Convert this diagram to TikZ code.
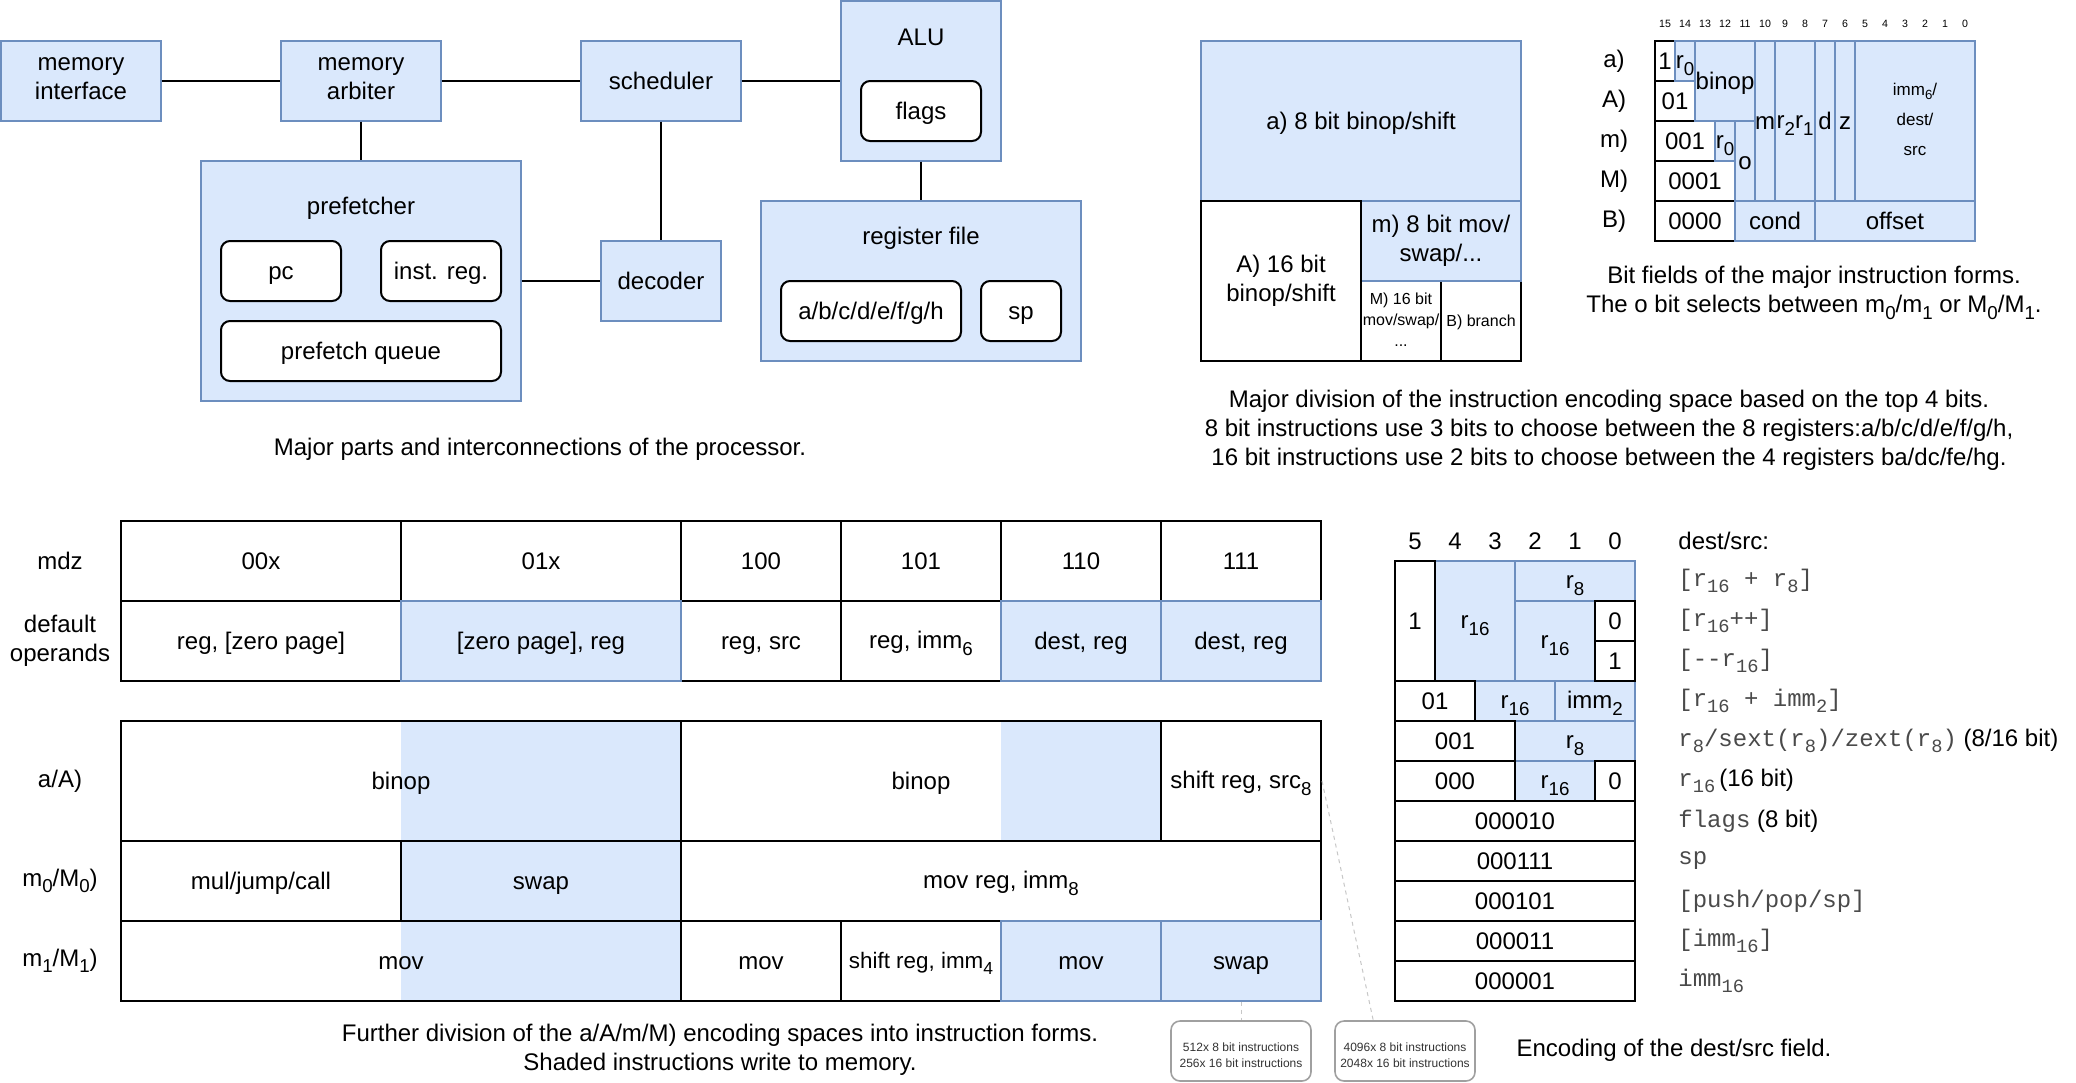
\documentclass[tikz,border=0pt]{standalone}
\usepackage{fontspec}
\usepackage{graphicx}
\setmainfont{Liberation Sans}
\setmonofont{Liberation Mono}
\usetikzlibrary{calc}
\definecolor{bfill}{HTML}{DAE8FC}
\definecolor{bdraw}{HTML}{6C8EBF}
\definecolor{monoc}{HTML}{4A4A4A}
\definecolor{callc}{HTML}{A0A0A0}
\definecolor{calltext}{HTML}{333333}
\newcommand\fstrut{\rule[-0.212em]{0pt}{1.117em}}
\newcommand\sub[1]{\raisebox{-0.27em}{\scalebox{0.78}{#1}}}
\tikzset{
  ft/.style={font=\fontsize{12}{14.4}\selectfont},
  struts/.style={execute at begin node=\fstrut, execute at end node=\fstrut},
  bcell/.style={fill=bfill, draw=bdraw, line width=0.6pt, inner sep=0pt, align=center, struts},
  bonly/.style={fill=bfill, draw=none, inner sep=0pt},
  wcell/.style={fill=white, draw=black, line width=1pt, inner sep=0pt, align=center, struts},
  ocell/.style={draw=black, line width=1pt, inner sep=0pt, align=center, struts},
  rcell/.style={wcell, rounded corners=4.5pt},
  conn/.style={draw=black, line width=1pt},
  callout/.style={fill=white, draw=callc, line width=0.8pt, rounded corners=4.5pt, inner sep=0pt},
  callfont/.style={inner sep=0pt, align=center, text=calltext, font=\fontsize{6}{8}\selectfont},
  leader/.style={draw=black!22, line width=0.5pt, dash pattern=on 2pt off 2pt},
  lbl/.style={inner sep=0pt, align=center},
  small/.style={font=\fontsize{8}{10.5}\selectfont},
  tiny/.style={font=\fontsize{5.3}{6}\selectfont},
}
\newcommand\mkcell[7]{\node[#2, minimum width={(#5-#3)*0.5pt}, minimum height={(#6-#4)*0.5pt}] (#1) at ({(#3+#5)/2},{(#4+#6)/2}) {#7};}
\newcommand\mono[1]{\textcolor{monoc}{\texttt{#1}}}
\begin{document}
\begin{tikzpicture}[x=0.5pt, y=-0.5pt, every node/.style={ft}]
\path[use as bounding box, fill=white] (0,0) rectangle (2076,1082);

% ---------- processor block diagram ----------
\mkcell{memint}{bcell}{1}{41}{161}{121}{memory\\interface}
\mkcell{memarb}{bcell}{281}{41}{441}{121}{memory\\arbiter}
\mkcell{sched}{bcell}{581}{41}{741}{121}{scheduler}
\mkcell{alu}{bcell}{841}{1}{1001}{161}{}
\node[lbl] (alut) at (921,37) {ALU};
\mkcell{flags}{rcell}{861}{81}{981}{141}{flags}
\mkcell{pref}{bcell}{201}{161}{521}{401}{}
\node[lbl] (preft) at (361,208) {prefetcher};
\mkcell{pc}{rcell}{221}{241}{341}{301}{pc}
\mkcell{ireg}{rcell}{381}{241}{501}{301}{inst. reg.}
\mkcell{pq}{rcell}{221}{321}{501}{381}{prefetch queue}
\mkcell{dec}{bcell}{601}{241}{721}{321}{decoder}
\mkcell{regf}{bcell}{761}{201}{1081}{361}{}
\node[lbl] (regft) at (921,238) {register file};
\mkcell{regs}{rcell}{781}{281}{961}{341}{a/b/c/d/e/f/g/h}
\mkcell{sp}{rcell}{981}{281}{1061}{341}{sp}

\draw[conn] (memint) -- (memarb);
\draw[conn] (memarb) -- (sched);
\draw[conn] (sched.east) -- (sched.east -| alu.west);
\draw[conn] (memarb) -- (pref);
\draw[conn] (sched) -- (dec);
\draw[conn] (pref) -- (dec);
\draw[conn] (alu) -- (regf);

\node[lbl] (cap1) at (540,449) {Major parts and interconnections of the processor.};

% ---------- encoding space ----------
\mkcell{ea}{bcell}{1201}{41}{1521}{201}{a) 8 bit binop/shift}
\mkcell{eMM}{wcell,small}{1361}{281}{1441}{361}{M) 16 bit\\mov/swap/\\...}
\mkcell{eB}{wcell,small}{1441}{281}{1521}{361}{B) branch}
\mkcell{em}{bcell}{1361}{201}{1521}{281}{m) 8 bit mov/\\swap/...}
\mkcell{eA}{wcell}{1201}{201}{1361}{361}{A) 16 bit\\binop/shift}

\node[lbl] (cap2) at (1609,430) {Major division of the instruction encoding space based on the top 4 bits.\\8 bit instructions use 3 bits to choose between the 8 registers:a/b/c/d/e/f/g/h,\\16 bit instructions use 2 bits to choose between the 4 registers ba/dc/fe/hg.};

% ---------- bit fields ----------
\foreach \b in {0,...,15} {\node[lbl,tiny] (bn\b) at ({1665+(15-\b)*20},24) {\b};}
\node[lbl] (rla) at (1614,61) {a)};
\node[lbl] (rlA) at (1614,101) {A)};
\node[lbl] (rlm) at (1614,141) {m)};
\node[lbl] (rlM) at (1614,181) {M)};
\node[lbl] (rlB) at (1614,221) {B)};

\mkcell{bf1}{wcell}{1655}{41}{1675}{81}{1}
\mkcell{bf01}{wcell}{1655}{81}{1695}{121}{01}
\mkcell{bf001}{wcell}{1655}{121}{1715}{161}{001}
\mkcell{bf0001}{wcell}{1655}{161}{1735}{201}{0001}
\mkcell{bf0000}{wcell}{1655}{201}{1735}{241}{0000}
\mkcell{bfr0a}{bcell}{1675}{41}{1695}{81}{r\sub{0}}
\mkcell{bfbin}{bcell}{1695}{41}{1755}{121}{binop}
\mkcell{bfr0m}{bcell}{1715}{121}{1735}{161}{r\sub{0}}
\mkcell{bfo}{bcell}{1735}{121}{1755}{201}{o}
\mkcell{bfm}{bcell}{1755}{41}{1775}{201}{m}
\mkcell{bfr}{bcell}{1775}{41}{1815}{201}{r\sub{2}r\sub{1}}
\mkcell{bfd}{bcell}{1815}{41}{1835}{201}{d}
\mkcell{bfz}{bcell}{1835}{41}{1855}{201}{z}
\mkcell{bfimm}{bcell,font=\fontsize{8.5}{15}\selectfont}{1855}{41}{1975}{201}{imm\sub{6}/\\dest/\\src}
\mkcell{bfcond}{bcell}{1735}{201}{1815}{241}{cond}
\mkcell{bfoff}{bcell}{1815}{201}{1975}{241}{offset}

\node[lbl] (cap3) at (1814,293) {Bit fields of the major instruction forms.\\The o bit selects between m\sub{0}/m\sub{1} or M\sub{0}/M\sub{1}.};

% ---------- mdz table ----------
\node[lbl] (lmdz) at (60,561) {mdz};
\node[lbl] (ldef) at (60,641) {default\\operands};
\mkcell{h1}{wcell}{121}{521}{401}{601}{00x}
\mkcell{h2}{wcell}{401}{521}{681}{601}{01x}
\mkcell{h3}{wcell}{681}{521}{841}{601}{100}
\mkcell{h4}{wcell}{841}{521}{1001}{601}{101}
\mkcell{h5}{wcell}{1001}{521}{1161}{601}{110}
\mkcell{h6}{wcell}{1161}{521}{1321}{601}{111}
\mkcell{d1}{wcell}{121}{601}{401}{681}{reg, [zero page]}
\mkcell{d3}{wcell}{681}{601}{841}{681}{reg, src}
\mkcell{d4}{wcell}{841}{601}{1001}{681}{reg, imm\sub{6}}
\mkcell{d2}{bcell}{401}{601}{681}{681}{[zero page], reg}
\mkcell{d5}{bcell}{1001}{601}{1161}{681}{dest, reg}
\mkcell{d6}{bcell}{1161}{601}{1321}{681}{dest, reg}

% ---------- instruction forms ----------
\node[lbl] (laA) at (60,781) {a/A)};
\node[lbl] (lm0) at (60,881) {m\sub{0}/M\sub{0})};
\node[lbl] (lm1) at (60,961) {m\sub{1}/M\sub{1})};
\mkcell{fa1}{bonly}{401}{721}{681}{841}{}
\mkcell{fa2}{bonly}{1001}{721}{1161}{841}{}
\mkcell{fa3}{bonly}{401}{921}{681}{1001}{}
\mkcell{m02}{bcell}{401}{841}{681}{921}{swap}
\mkcell{aA1}{ocell}{121}{721}{681}{841}{binop}
\mkcell{aA2}{ocell}{681}{721}{1161}{841}{binop}
\mkcell{aA3}{wcell}{1161}{721}{1321}{841}{shift reg, src\sub{8}}
\mkcell{m01}{wcell}{121}{841}{401}{921}{mul/jump/call}
\mkcell{m03}{wcell}{681}{841}{1321}{921}{mov reg, imm\sub{8}}
\mkcell{m11}{ocell}{121}{921}{681}{1001}{mov}
\mkcell{m12}{wcell}{681}{921}{841}{1001}{mov}
\mkcell{m13}{wcell,font=\fontsize{11.2}{14}\selectfont}{841}{921}{1001}{1001}{shift reg, imm\sub{4}}
\mkcell{m14}{bcell}{1001}{921}{1161}{1001}{mov}
\mkcell{m15}{bcell}{1161}{921}{1321}{1001}{swap}

\node[lbl] (cap4) at (720,1050) {Further division of the a/A/m/M) encoding spaces into instruction forms.\\Shaded instructions write to memory.};

\mkcell{co1}{callout}{1171}{1021}{1311}{1081}{}
\node[callfont] (co1t) at (1241,1055) {512x 8 bit instructions\\256x 16 bit instructions};
\mkcell{co2}{callout}{1335}{1021}{1475}{1081}{}
\node[callfont] (co2t) at (1405,1055) {4096x 8 bit instructions\\2048x 16 bit instructions};
\draw[leader] (m15.south) -- (co1.north);
\draw[leader] (aA3.east) -- ($(co2.north west)+(39,0)$);

% ---------- dest/src encoding ----------
\foreach \b in {0,...,5} {\node[lbl] (dn\b) at ({1415+(5-\b)*40},541) {\b};}
\mkcell{dsr16a}{bcell}{1435}{561}{1515}{681}{r\sub{16}}
\mkcell{dsr8a}{bcell}{1515}{561}{1635}{601}{r\sub{8}}
\mkcell{dsr16b}{bcell}{1515}{601}{1595}{681}{r\sub{16}}
\mkcell{dsr16c}{bcell}{1475}{681}{1555}{721}{r\sub{16}}
\mkcell{dsimm}{bcell}{1555}{681}{1635}{721}{imm\sub{2}}
\mkcell{dsr8b}{bcell}{1515}{721}{1635}{761}{r\sub{8}}
\mkcell{dsr16d}{bcell}{1515}{761}{1595}{801}{r\sub{16}}
\mkcell{ds1}{wcell}{1395}{561}{1435}{681}{1}
\mkcell{ds0a}{wcell}{1595}{601}{1635}{641}{0}
\mkcell{ds1b}{wcell}{1595}{641}{1635}{681}{1}
\mkcell{ds01}{wcell}{1395}{681}{1475}{721}{01}
\mkcell{ds001}{wcell}{1395}{721}{1515}{761}{001}
\mkcell{ds000}{wcell}{1395}{761}{1515}{801}{000}
\mkcell{ds0b}{wcell}{1595}{761}{1635}{801}{0}
\mkcell{dsf1}{wcell}{1395}{801}{1635}{841}{000010}
\mkcell{dsf2}{wcell}{1395}{841}{1635}{881}{000111}
\mkcell{dsf3}{wcell}{1395}{881}{1635}{921}{000101}
\mkcell{dsf4}{wcell}{1395}{921}{1635}{961}{000011}
\mkcell{dsf5}{wcell}{1395}{961}{1635}{1001}{000001}

\node[lbl, anchor=west] (dsh) at (1678,541) {dest/src:};
\node[lbl, anchor=west] (t1) at (1678,581) {\mono{[r\sub{16} + r\sub{8}]}};
\node[lbl, anchor=west] (t2) at (1678,621) {\mono{[r\sub{16}++]}};
\node[lbl, anchor=west] (t3) at (1678,661) {\mono{[-{}-r\sub{16}]}};
\node[lbl, anchor=west] (t4) at (1678,701) {\mono{[r\sub{16} + imm\sub{2}]}};
\node[lbl, anchor=west] (t5) at (1678,741) {\mono{r\sub{8}/sext(r\sub{8})/zext(r\sub{8})} (8/16 bit)};
\node[lbl, anchor=west] (t6) at (1678,781) {\mono{r\sub{16}}\,(16 bit)};
\node[lbl, anchor=west] (t7) at (1678,821) {\mono{flags} (8 bit)};
\node[lbl, anchor=west] (t8) at (1678,861) {\mono{sp}};
\node[lbl, anchor=west] (t9) at (1678,901) {\mono{[push/pop/sp]}};
\node[lbl, anchor=west] (t10) at (1678,941) {\mono{[imm\sub{16}]}};
\node[lbl, anchor=west] (t11) at (1678,981) {\mono{imm\sub{16}}};

\node[lbl] (cap5) at (1674,1050) {Encoding of the dest/src field.};
\end{tikzpicture}
\end{document}
